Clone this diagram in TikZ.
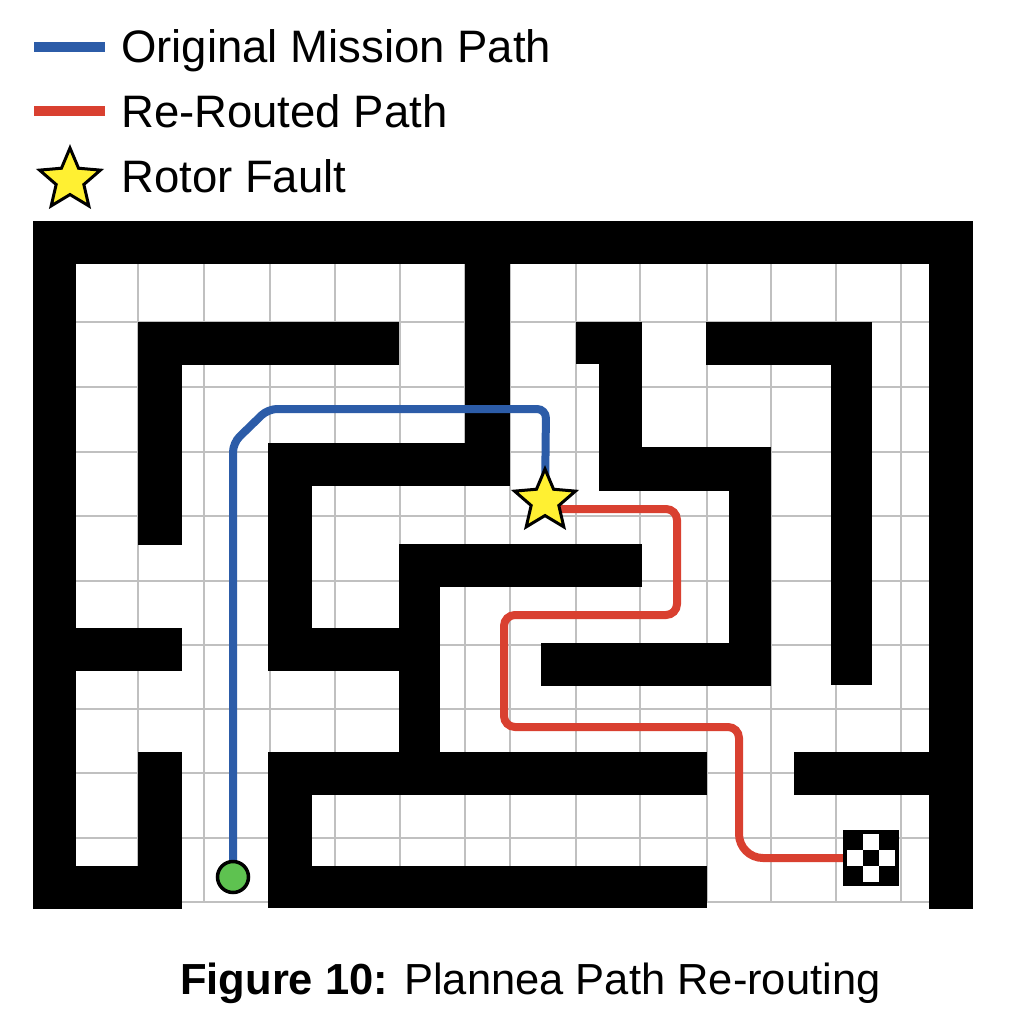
\documentclass[tikz,border=0pt]{standalone}
\usepackage{fontspec}
\setmainfont{Liberation Sans}
\usetikzlibrary{shapes.geometric}
\pgfdeclarelayer{bg}
\pgfdeclarelayer{mid}
\pgfsetlayers{bg,mid,main}
\definecolor{pathblue}{RGB}{44,92,168}
\definecolor{pathred}{RGB}{217,64,48}
\definecolor{gridgray}{RGB}{192,192,192}
\definecolor{starfill}{RGB}{255,240,50}
\definecolor{startgreen}{RGB}{94,194,80}
\tikzset{
  wall/.style={fill=black},
  gridline/.style={draw=gridgray, line width=1.6pt},
  bluepath/.style={draw=pathblue, line width=8pt, line cap=butt, line join=miter},
  redpath/.style={draw=pathred, line width=8pt, line cap=butt},
  faultstar/.style={star, star points=5, star point ratio=2.2, minimum size=64pt, inner sep=0pt, fill=starfill, draw=black, line width=3pt},
  startdot/.style={circle, minimum size=31pt, inner sep=0pt, fill=startgreen, draw=black, line width=3.5pt},
  goalbox/.style={rectangle, minimum size=56pt, inner sep=0pt, fill=black},
  legtext/.style={anchor=base west, inner sep=0pt, font=\fontsize{45.5}{54}\selectfont},
  captext/.style={anchor=base west, inner sep=0pt, font=\fontsize{43.5}{52}\selectfont}
}
\begin{document}
\begin{tikzpicture}[x=1pt,y=-1pt]
\useasboundingbox (0,0) rectangle (1024,1024);
\begin{pgfonlayer}{bg}
  \fill[white] (0,0) rectangle (1024,1024);
  % grid
  \foreach \gx in {138,204,270,335,400,465,510,576,640,707,771,836,901}
    \draw[gridline] (\gx,264) -- (\gx,902);
  \foreach \gy in {322,387,452,516,581,645,709,773,838,902}
    \draw[gridline] (76,\gy) -- (929,\gy);
  % outer walls
  \fill[wall] (33,221) rectangle (973,264);
  \fill[wall] (33,221) rectangle (76,909);
  \fill[wall] (929,221) rectangle (973,909);
  % left side pieces
  \fill[wall] (76,628) rectangle (182,671);
  \fill[wall] (138,752) rectangle (182,909);
  \fill[wall] (33,866) rectangle (182,909);
  \fill[wall] (138,322) rectangle (399,365);
  \fill[wall] (138,322) rectangle (182,545);
  % centre pieces
  \fill[wall] (465,264) rectangle (510,486);
  \fill[wall] (268,443) rectangle (510,486);
  \fill[wall] (268,443) rectangle (312,671);
  \fill[wall] (268,628) rectangle (440,671);
  \fill[wall] (399,544) rectangle (440,795);
  \fill[wall] (399,544) rectangle (642,587);
  \fill[wall] (268,752) rectangle (707,795);
  \fill[wall] (268,752) rectangle (312,908);
  \fill[wall] (268,866) rectangle (707,908);
  % right pieces
  \fill[wall] (576,322) rectangle (642,364);
  \fill[wall] (599,322) rectangle (642,491);
  \fill[wall] (599,447) rectangle (771,491);
  \fill[wall] (729,447) rectangle (771,686);
  \fill[wall] (541,643) rectangle (771,686);
  \fill[wall] (706,322) rectangle (872,365);
  \fill[wall] (831,322) rectangle (872,685);
  \fill[wall] (794,752) rectangle (929,795);
\end{pgfonlayer}

% nodes
\node[startdot] (start) at (233,877) {};
\node[faultstar] (fault) at (545,501) {};
\node[goalbox] (goal) at (871,858) {};
\fill[white] (863,834) rectangle (879,850);
\fill[white] (847,850) rectangle (863,866);
\fill[white] (879,850) rectangle (895,866);
\fill[white] (863,866) rectangle (879,882);

\coordinate (b1) at (233,443);
\coordinate (b2) at (268,409);
\coordinate (b3) at (546,409);
\coordinate (r1) at (677,509);
\coordinate (r2) at (677,615);
\coordinate (r3) at (504,615);
\coordinate (r4) at (504,727);
\coordinate (r5) at (739,727);
\coordinate (r6) at (739,790);
\coordinate (r7) at (739,858);

\begin{pgfonlayer}{mid}
  \draw[bluepath, rounded corners=9pt] (start.north) -- (b1) -- (b2) -- (b3) -- (fault.center);
  \draw[redpath, rounded corners=11pt] (fault.center |- r1) -- (r1) -- (r2) -- (r3) -- (r4) -- (r5) -- (r6);
  \draw[redpath, rounded corners=24pt] (r6) -- (r7) -- (goal.west);
\end{pgfonlayer}

% legend
\coordinate (lb1) at (34,47);
\coordinate (lb2) at (105,47);
\coordinate (lr1) at (34,111);
\coordinate (lr2) at (105,111);
\draw[bluepath, line width=10pt] (lb1) -- (lb2);
\draw[redpath, line width=10pt] (lr1) -- (lr2);
\node[faultstar] (legstar) at (70,180) {};
\node[legtext] (lt1) at (121,63) {Original Mission Path};
\node[legtext] (lt2) at (121,128) {Re-Routed Path};
\node[legtext] (lt3) at (121,193) {Rotor Fault};

% caption
\node[captext] (cap) at (180,994) {\textbf{Figure 10:} Plannea Path Re-routing};
\end{tikzpicture}
\end{document}
